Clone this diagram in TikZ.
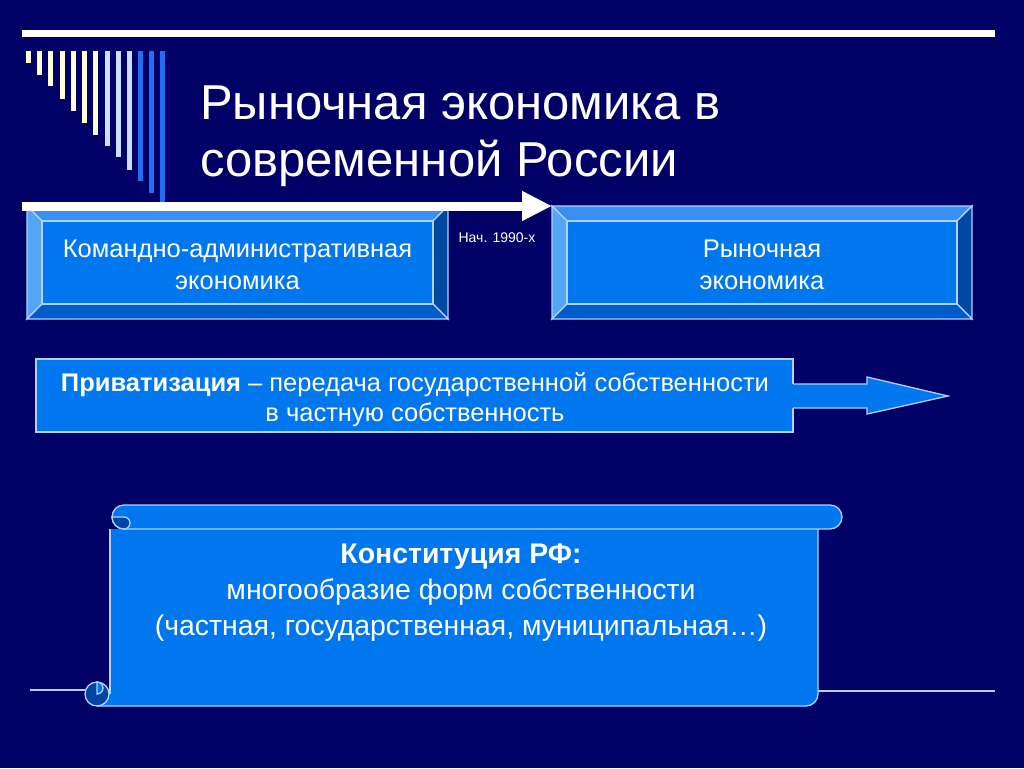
\documentclass[tikz,border=0pt]{standalone}
\usepackage{fontspec}
\setmainfont{Liberation Sans}
\usetikzlibrary{arrows.meta}
\definecolor{navy}{RGB}{0,0,102}
\definecolor{face}{RGB}{0,119,238}
\definecolor{bevellight}{RGB}{55,145,242}
\definecolor{bevelleft}{RGB}{85,165,245}
\definecolor{beveldark}{RGB}{0,72,160}
\definecolor{bevelbottom}{RGB}{0,92,200}
\definecolor{rim}{RGB}{175,210,255}
\definecolor{cream}{RGB}{255,255,215}
\definecolor{paleblue}{RGB}{205,222,255}
\definecolor{midblue}{RGB}{35,110,240}
\definecolor{curl}{RGB}{0,68,165}
\begin{document}
\begin{tikzpicture}[x=1pt,y=-1pt,
    rim line/.style={draw=rim, line width=1.3},
    plate/.style={fill=face, rim line},
    bevel top/.style={fill=bevellight, rim line},
    bevel left/.style={fill=bevelleft, rim line},
    bevel right/.style={fill=beveldark, rim line},
    bevel bottom/.style={fill=bevelbottom, rim line},
    title text/.style={text=white, inner sep=0, font=\fontsize{49}{57}\selectfont},
    box text/.style={text=white, align=center, font=\fontsize{25.5}{32}\selectfont},
    small text/.style={text=white, font=\fontsize{14}{15}\selectfont},
    plate text/.style={text=white, align=center, font=\fontsize{25.5}{30}\selectfont},
    scroll text/.style={text=white, align=center, font=\fontsize{28.4}{36}\selectfont}]
        \fill[navy] (0,0) rectangle (1024,768);
        \useasboundingbox (0,0) rectangle (1024,768);

        % top rule and bars
        \fill[white] (22,30) rectangle (995,37);
        \fill[cream] (26,51) rectangle (31,63);
        \fill[cream] (37,51) rectangle (42,75);
        \fill[cream] (48,51) rectangle (53,86);
        \fill[cream] (59.5,51) rectangle (64.5,99);
        \fill[cream] (70.5,51) rectangle (75.5,111);
        \fill[cream] (82,51) rectangle (87,123);
        \fill[cream] (93,51) rectangle (98,135);
        \fill[paleblue] (104.5,51) rectangle (109.5,146);
        \fill[paleblue] (115.5,51) rectangle (120.5,157);
        \fill[paleblue] (127,51) rectangle (132,170);
        \fill[midblue] (138,51) rectangle (143,181);
        \fill[midblue] (149,51) rectangle (154,193);
        \fill[midblue] (160,51) rectangle (165,203);

        \node[title text, anchor=base west] (title1) at (200,119) {Рыночная экономика в};
        \node[title text, anchor=base west] (title2) at (200,176) {современной России};

        % left box
        \draw[bevel top] (27,206) -- (448,206) -- ({448-15},{206+15}) -- ({27+15},{206+15}) -- cycle;
        \draw[bevel left] (27,206) -- ({27+15},{206+15}) -- ({27+15},{319-15}) -- (27,319) -- cycle;
        \draw[bevel right] (448,206) -- (448,319) -- ({448-15},{319-15}) -- ({448-15},{206+15}) -- cycle;
        \draw[bevel bottom] (27,319) -- (448,319) -- ({448-15},{319-15}) -- ({27+15},{319-15}) -- cycle;
        \draw[plate] ({27+15},{206+15}) rectangle ({448-15},{319-15});
        \node[box text] (command) at (237.5,265) {Командно-административная\\экономика};

        % right box
        \draw[bevel top] (552,206) -- (972,206) -- ({972-15},{206+15}) -- ({552+15},{206+15}) -- cycle;
        \draw[bevel left] (552,206) -- ({552+15},{206+15}) -- ({552+15},{319-15}) -- (552,319) -- cycle;
        \draw[bevel right] (972,206) -- (972,319) -- ({972-15},{319-15}) -- ({972-15},{206+15}) -- cycle;
        \draw[bevel bottom] (552,319) -- (972,319) -- ({972-15},{319-15}) -- ({552+15},{319-15}) -- cycle;
        \draw[plate] ({552+15},{206+15}) rectangle ({972-15},{319-15});
        \node[box text] (market) at (762,265) {Рыночная\\экономика};

        \draw[white, line width=9, -{Triangle[length=30pt,width=28pt]}] (22,206) -- (552,206);
        \node[small text] (start) at (497,238) {Нач. 1990-х};

        % privatization
        \node[plate, minimum width=757, minimum height=73, inner sep=0] (privat) at (414.5,395.5) {};
        \node[plate text] (privtext) at (415,400) {\textbf{Приватизация} – передача государственной собственности\\в частную собственность};
        \fill[face] (792,384) -- (867,384) -- (867,377) -- (948,396) -- (867,414) -- (867,408) -- (792,408) -- cycle;
        \draw[rim line] (793,384) -- (867,384) -- (867,377) -- (948,396) -- (867,414) -- (867,408) -- (793,408);

        % scroll
        \fill[face] (110,529) -- (818,529) -- (818,694) arc[start angle=0, end angle=90, radius=12] -- (97,706) -- (97,694) -- (110,694) -- cycle;
        \draw[rim line] (818,529) -- (818,694) arc[start angle=0, end angle=90, radius=12] -- (97,706);
        \draw[rim line] (110,529) -- (110,694);
        \draw[plate] (124,505) -- (830,505) arc[start angle=-90, end angle=90, radius=12] -- (124,529) arc[start angle=90, end angle=270, radius=12] -- cycle;
        \draw[fill=curl, rim line] (112,517) arc[start angle=180, end angle=90, radius=12] arc[start angle=90, end angle=-90, radius=6] -- cycle;
        \draw[fill=curl, rim line] (97,694) circle (12);
        \draw[plate] (97,682) arc[start angle=-90, end angle=90, radius=6] -- cycle;
        \draw[rim line] (30,690) -- (85,690);
        \draw[rim line] (818,691) -- (995,691);
        \node[scroll text] (const) at (461,593) {\textbf{Конституция РФ:}\\многообразие форм собственности\\(частная, государственная, муниципальная…)};
\end{tikzpicture}
\end{document}
